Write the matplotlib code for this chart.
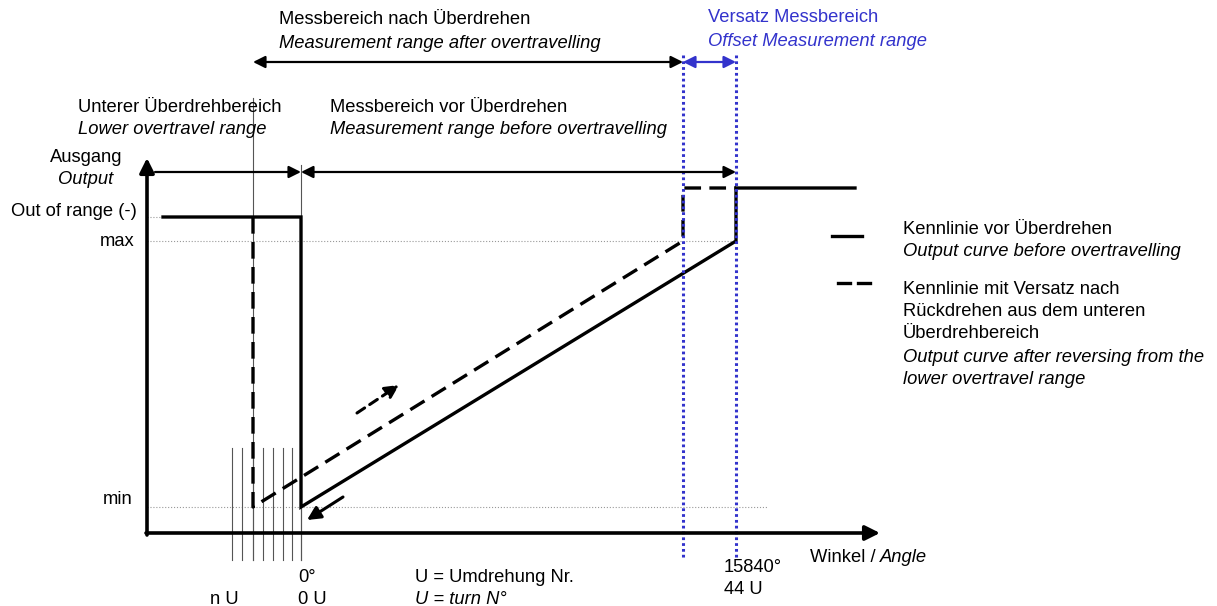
import matplotlib
matplotlib.use("Agg")
import matplotlib.pyplot as plt

plt.rcParams['font.family'] = ['Liberation Sans', 'DejaVu Sans']

# ---- diagram data (pixel-space coordinates of the schematic) ----
x_axis0 = 147          # origin x
y_axis0 = 533          # origin y (x axis level)
x_nU = 253             # n U turn position
x_zero = 301           # 0° / 0 U
x_off = 683            # end of measurement range after overtravel
x_end = 736            # 15840° / 44 U
x_right = 855          # end of upper out-of-range line
y_oor = 217            # out of range (-) level
y_max = 241            # max level
y_min = 507            # min level
y_oor_hi = 188         # upper out-of-range level
hatch_x = [232, 242, 253, 263, 273, 283, 292, 301]

solid_x = [163, x_zero, x_zero, x_end, x_end, x_right]
solid_y = [y_oor, y_oor, y_min, y_max, y_oor_hi, y_oor_hi]
dash_x = [x_nU, x_nU, x_off, x_off, x_end]
dash_y = [y_oor, y_min, y_max, y_oor_hi, y_oor_hi]

W, H = 1217, 606
fig = plt.figure(figsize=(W / 100, H / 100), dpi=100)
ax = fig.add_axes([0, 0, 1, 1])
ax.set_xlim(0, W)
ax.set_ylim(H, 0)
ax.axis('off')

BLUE = '#3333cc'
FS = 13.2

def arrow(x0, y0, x1, y1, color='black', lw=1.6, both=False, ms=18, ls='-'):
    style = '<|-|>' if both else '-|>'
    ax.annotate('', xy=(x1, y1), xytext=(x0, y0),
                arrowprops=dict(arrowstyle=style, color=color, lw=lw,
                                mutation_scale=ms, shrinkA=0, shrinkB=0,
                                linestyle=ls))

# thin gray reference lines
ax.plot([x_axis0, 163], [y_oor, y_oor], color='#999999', lw=0.8, ls=':')
ax.plot([x_axis0, x_end], [y_max, y_max], color='#999999', lw=0.8, ls=':')
ax.plot([x_axis0, 768], [y_min, y_min], color='#999999', lw=0.8, ls=':')

# thin vertical lines
ax.plot([x_nU, x_nU], [98, 560], color='#555555', lw=0.8)
ax.plot([x_zero, x_zero], [165, 560], color='#555555', lw=0.8)
for hx in hatch_x:
    ax.plot([hx, hx], [448, 560], color='#555555', lw=0.8)

# axes
arrow(x_axis0, y_axis0 + 2, x_axis0, 158, lw=2.6, ms=22)
arrow(x_axis0 - 1, y_axis0, 880, y_axis0, lw=2.6, ms=22)

# curves
ax.plot(solid_x, solid_y, color='black', lw=2.4, solid_joinstyle='miter')
ax.plot(dash_x, dash_y, color='black', lw=2.4, ls=(0, (5, 2.5)))

# blue dotted verticals
for bx in (x_off, x_end):
    ax.plot([bx, bx], [55, 558], color=BLUE, lw=2.2, ls=(0, (0.9, 1.0)))

# range arrows
arrow(x_nU, 62, x_off, 62, both=True, lw=1.6)
arrow(x_off, 62, x_end, 62, both=True, color=BLUE, lw=1.6)
arrow(155, 172, x_zero, 172, lw=1.6)
arrow(x_zero, 172, x_end, 172, both=True, lw=1.6)

# direction arrows
arrow(357, 413, 399, 385, lw=2.2, ms=20, ls=(0, (3, 2)))
arrow(343, 497, 307, 520, lw=2.2, ms=20)

# legend lines
ax.plot([832, 862], [236, 236], color='black', lw=2.4)
ax.plot([838, 850], [283, 283], color='black', lw=2.4)
ax.plot([858, 870], [283, 283], color='black', lw=2.4)

def txt(x, y, s, italic=False, color='black', ha='left'):
    return ax.text(x, y, s, fontsize=FS, style='italic' if italic else 'normal',
                   color=color, ha=ha, va='center')

txt(279, 20, 'Messbereich nach Überdrehen')
txt(279, 43, 'Measurement range after overtravelling', italic=True)
txt(708, 18, 'Versatz Messbereich', color=BLUE)
txt(708, 41, 'Offset Measurement range', italic=True, color=BLUE)
txt(78, 107, 'Unterer Überdrehbereich')
txt(78, 129, 'Lower overtravel range', italic=True)
txt(330, 107, 'Messbereich vor Überdrehen')
txt(330, 129, 'Measurement range before overtravelling', italic=True)
txt(86, 157, 'Ausgang', ha='center')
txt(86, 179, 'Output', italic=True, ha='center')
txt(137, 212, 'Out of range (-)', ha='right')
txt(135, 241, 'max', ha='right')
txt(133, 500, 'min', ha='right')
txt(298, 577, '0°')
txt(298, 599, '0 U')
txt(210, 599, 'n U')
txt(415, 577, 'U = Umdrehung Nr.')
txt(415, 599, 'U = turn N°', italic=True)
txt(724, 568, '15840°')
txt(724, 590, '44 U')
t_w = txt(810, 557, 'Winkel /')
ax.annotate('Angle', xy=(1, 0.5), xycoords=t_w, xytext=(3, 0),
            textcoords='offset points', fontsize=FS, style='italic',
            ha='left', va='center')
txt(903, 229, 'Kennlinie vor Überdrehen')
txt(903, 251, 'Output curve before overtravelling', italic=True)
txt(903, 290, 'Kennlinie mit Versatz nach')
txt(903, 312, 'Rückdrehen aus dem unteren')
txt(903, 334, 'Überdrehbereich')
txt(903, 357, 'Output curve after reversing from the', italic=True)
txt(903, 380, 'lower overtravel range', italic=True)

fig.savefig('out.png', dpi=100)
